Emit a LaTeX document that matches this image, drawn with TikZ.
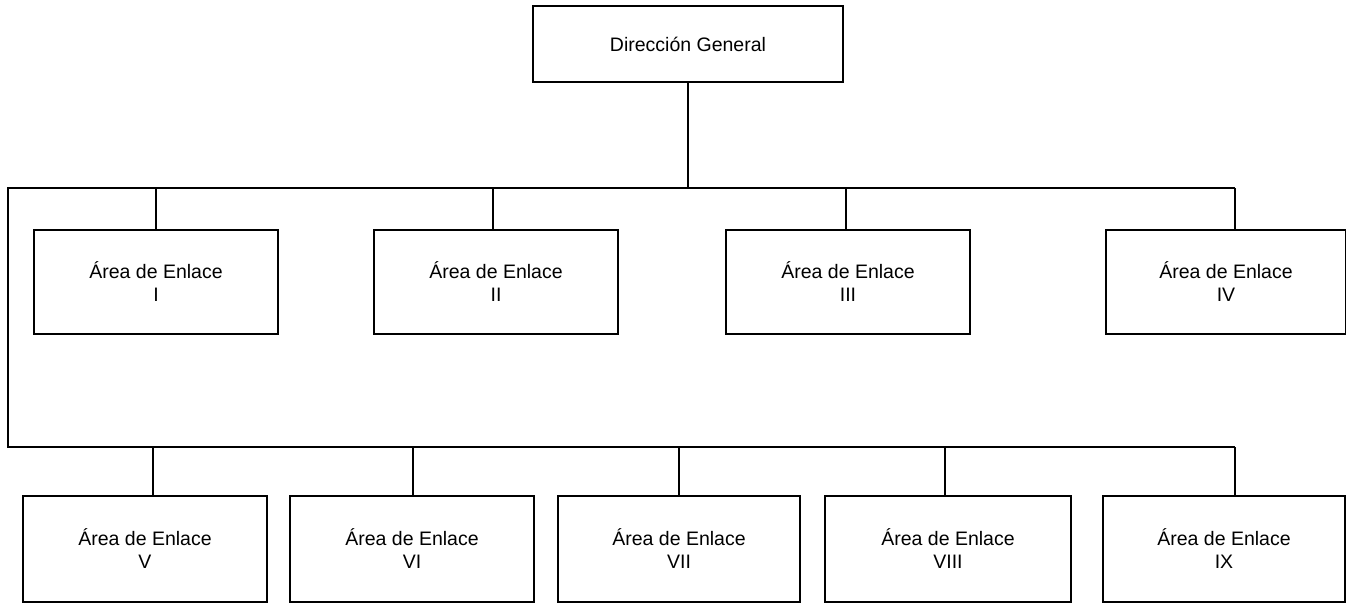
\documentclass[tikz,border=0pt]{standalone}
\usepackage{fontspec}
\setmainfont{Liberation Sans}
\usetikzlibrary{positioning,calc}
\tikzset{
  unit/.style={draw=black, line width=1pt, align=center, inner sep=2pt,
    minimum width=4.88cm, minimum height=2.08cm,
    font=\fontsize{11.1}{13.1}\selectfont, text=black},
  wire/.style={draw=black, line width=1pt},
}

\begin{document}
\begin{tikzpicture}[x=0.02cm, y=-0.02cm]
    \useasboundingbox (0,0) rectangle (1346,605);
    % head of the chart
    \node[unit, minimum width=6.2cm, minimum height=1.52cm] (dg) at (688,44) {Dirección General};
    % the two bus lines
    \coordinate (tl) at (8,188);
    \coordinate (tr) at (1235,188);
    \coordinate (bl) at (8,447);
    \coordinate (br) at (1235,447);
    \draw[wire] (dg.south) -- (dg.south |- tl);
    \draw[wire] (tr) -- (tl) -- (bl) -- (br);
    % first row
    \foreach \cx/\dx/\w/\num [count=\i] in {
        156/156/4.88/I, 496/493/4.88/II, 848/846/4.88/III, 1226/1235/4.8/IV} {
      \node[unit, minimum width=\w cm] (a\i) at (\cx,282) {Área de Enlace\\\num};
      \coordinate (p\i) at (\dx,188);
      \draw[wire] (p\i) -- (p\i |- a\i.north);
    }
    % second row
    \foreach \cx/\dx/\w/\num [count=\i] in {
        145/153/4.88/V, 412/413/4.88/VI, 679/679/4.84/VII, 948/945/4.92/VIII, 1224/1235/4.84/IX} {
      \node[unit, minimum width=\w cm, minimum height=2.12cm] (b\i) at (\cx,549) {Área de Enlace\\\num};
      \coordinate (q\i) at (\dx,447);
      \draw[wire] (q\i) -- (q\i |- b\i.north);
    }
\end{tikzpicture}
\end{document}
